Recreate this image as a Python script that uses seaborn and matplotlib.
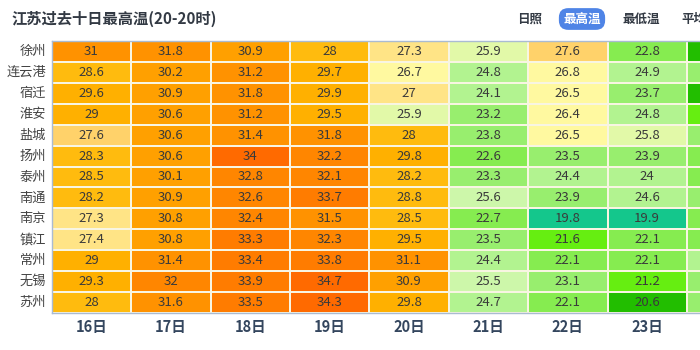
import matplotlib
matplotlib.use("Agg")
import matplotlib.pyplot as plt
from matplotlib.colors import ListedColormap, BoundaryNorm
import numpy as np
import pandas as pd
import seaborn as sns

cities = ["徐州", "连云港", "宿迁", "淮安", "盐城", "扬州", "泰州",
          "南通", "南京", "镇江", "常州", "无锡", "苏州"]
days = ["16日", "17日", "18日", "19日", "20日", "21日", "22日", "23日", "24日"]

d16 = [31, 28.6, 29.6, 29, 27.6, 28.3, 28.5, 28.2, 27.3, 27.4, 29, 29.3, 28]
d17 = [31.8, 30.2, 30.9, 30.6, 30.6, 30.6, 30.1, 30.9, 30.8, 30.8, 31.4, 32, 31.6]
d18 = [30.9, 31.2, 31.8, 31.2, 31.4, 34, 32.8, 32.6, 32.4, 33.3, 33.4, 33.9, 33.5]
d19 = [28, 29.7, 29.9, 29.5, 31.8, 32.2, 32.1, 33.7, 31.5, 32.3, 33.8, 34.7, 34.3]
d20 = [27.3, 26.7, 27, 25.9, 28, 29.8, 28.2, 28.8, 28.5, 29.5, 31.1, 30.9, 29.8]
d21 = [25.9, 24.8, 24.1, 23.2, 23.8, 22.6, 23.3, 25.6, 22.7, 23.5, 24.4, 25.5, 24.7]
d22 = [27.6, 26.8, 26.5, 26.4, 26.5, 23.5, 24.4, 23.9, 19.8, 21.6, 22.1, 23.1, 22.1]
d23 = [22.8, 24.9, 23.7, 24.8, 25.8, 23.9, 24, 24.6, 19.9, 22.1, 22.1, 21.2, 20.6]
# 24日 is cut off at the right edge
d24 = [20.8, 23.0, 20.7, 21.5, 23.2, 22.8, 22.9, 23.0, 22.5, 22.8, 24.2, 23.4, 23.6]

bounds = [19, 20.2, 21, 22, 23, 24, 25, 25.7, 26.2, 27, 27.5, 28,
          29, 30, 31, 32, 33, 34, 36]
bin_colors = ["#14c78c", "#22be00", "#66ee11", "#86ec50", "#98ee6e", "#b2f390",
              "#cdf7aa", "#e2f9a8", "#fff9a0", "#ffe486", "#ffd26a", "#ffbb0e",
              "#ffb000", "#ffa000", "#ff9200", "#ff8600", "#ff7c00", "#ff6a00"]

sns.set_style("white")
plt.rcParams["font.family"] = ["Noto Sans CJK SC", "DejaVu Sans"]

df = pd.DataFrame({d: v for d, v in zip(days, [d16, d17, d18, d19, d20, d21, d22, d23, d24])},
                  index=cities)
# the partly visible last column shows no numbers
labels = df.map(lambda v: f"{v:g}")
labels[days[-1]] = ""

cmap = ListedColormap(bin_colors)
norm = BoundaryNorm(bounds, cmap.N)

fig = plt.figure(figsize=(7, 3.5), dpi=100)
col_w = 79.4
ax = fig.add_axes([51.7 / 700, 1 - 313 / 350, len(days) * col_w / 700, 272 / 350])
sns.heatmap(df, ax=ax, cmap=cmap, norm=norm, cbar=False, annot=labels.values, fmt="",
            annot_kws={"color": "#3a3a3a", "fontsize": 9.5},
            linewidths=1.3, linecolor="#f8f5e2")

ax.tick_params(length=0, pad=4)
ax.set_xticklabels(days[:-1] + [""], fontsize=10.5, fontweight="bold", color="#34465e")
ax.set_yticklabels(cities, fontsize=9.5, color="#444444", rotation=0)
ax.set_xlabel("")
ax.set_ylabel("")
for s in ax.spines.values():
    s.set_visible(True)
    s.set_color("#aabbd2")
    s.set_linewidth(1)

fig.text(11 / 700, 1 - 19 / 350, "江苏过去十日最高温(20-20时)", fontsize=11,
         fontweight="bold", color="#333a44", va="center", ha="left")
fig.text(530 / 700, 1 - 19 / 350, "日照", fontsize=9, fontweight="bold",
         color="#333a44", va="center", ha="center")
fig.text(582 / 700, 1 - 19 / 350, "最高温", fontsize=9, fontweight="bold",
         color="white", va="center", ha="center",
         bbox=dict(boxstyle="round,pad=0.35,rounding_size=0.75", fc="#4f84e6", ec="none"))
fig.text(641 / 700, 1 - 19 / 350, "最低温", fontsize=9, fontweight="bold",
         color="#333a44", va="center", ha="center")
fig.text(681 / 700, 1 - 19 / 350, "平均", fontsize=9, fontweight="bold",
         color="#333a44", va="center", ha="left")

fig.savefig("out.png", dpi=100)
